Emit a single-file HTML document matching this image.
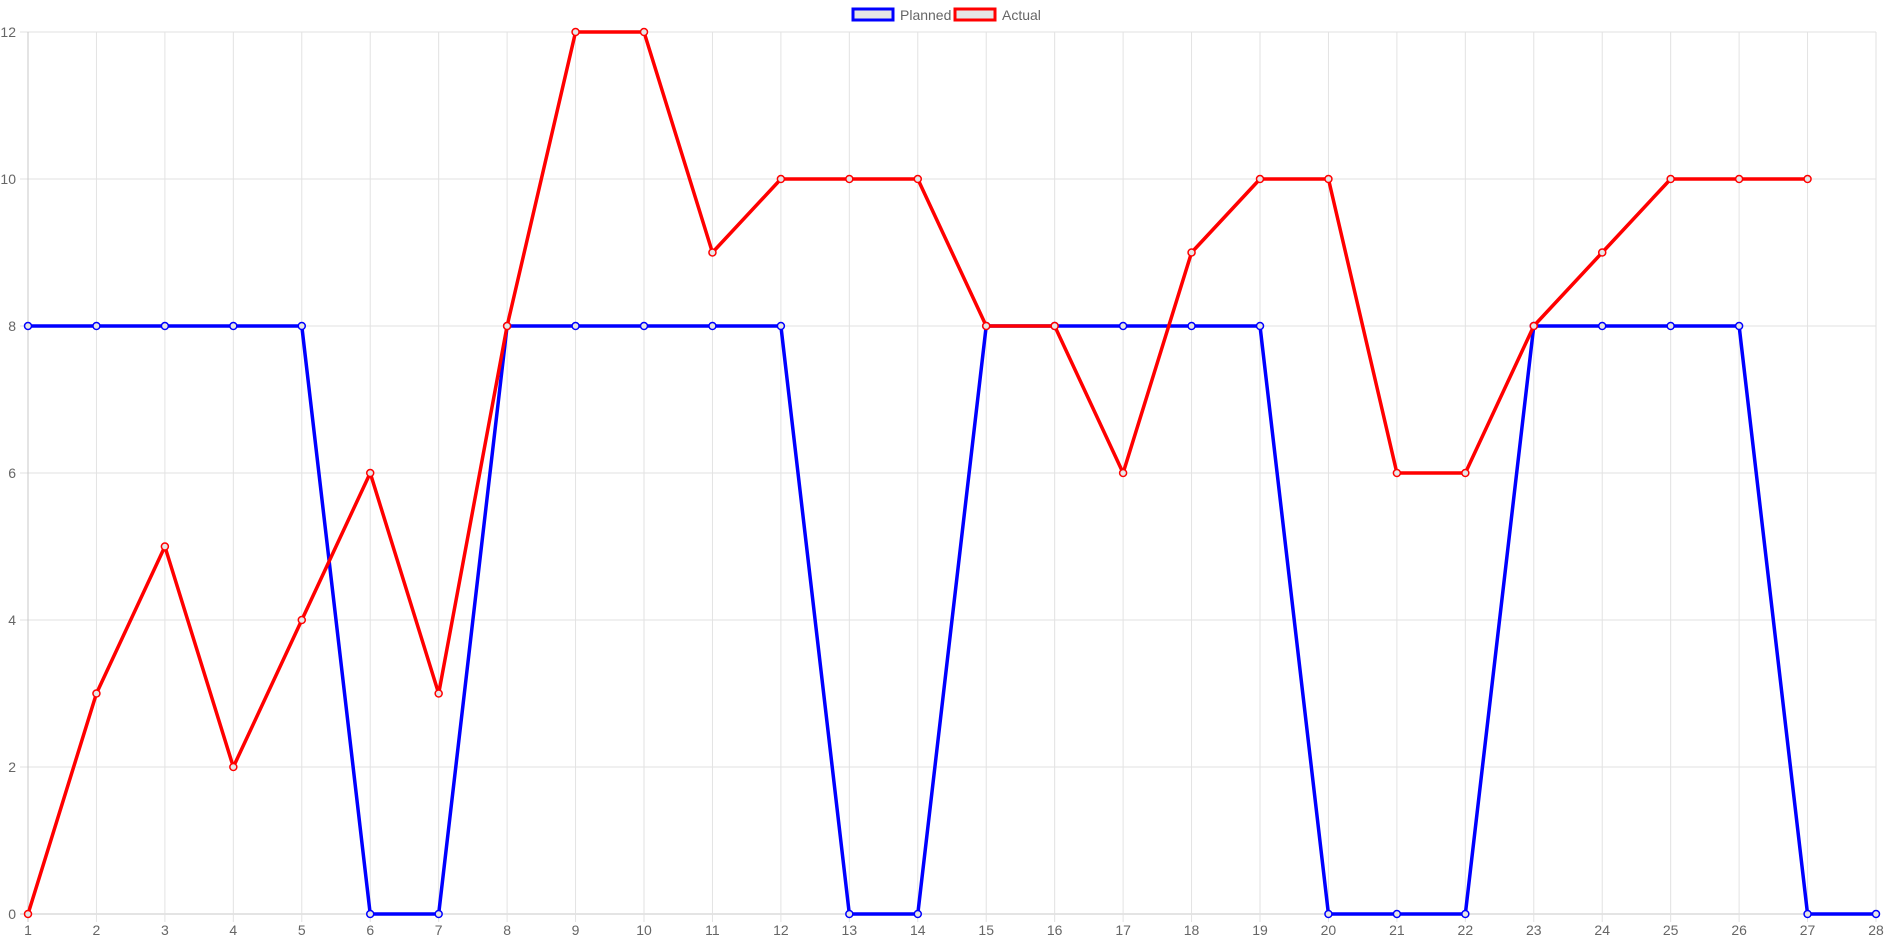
<!DOCTYPE html>
<html><head><meta charset="utf-8"><style>
html,body{margin:0;padding:0;background:#fff;}
svg{display:block;font-family:"Liberation Sans",Arial,sans-serif;}
</style></head><body>
<svg id="chart" width="1887" height="943"></svg>
<script>
const categories = ["1","2","3","4","5","6","7","8","9","10","11","12","13","14","15","16","17","18","19","20","21","22","23","24","25","26","27","28"];
const plannedValues = [8,8,8,8,8,0,0,8,8,8,8,8,0,0,8,8,8,8,8,0,0,0,8,8,8,8,0,0];
const actualValues = [0,3,5,2,4,6,3,8,12,12,9,10,10,10,8,8,6,9,10,10,6,6,8,9,10,10,10];
const yTicks = [0,2,4,6,8,10,12];

const svgEl = document.getElementById('chart');
const NS = 'http://www.w3.org/2000/svg';
const plotLeft = 28, plotRight = 1876, plotTop = 32, plotBottom = 914, yMax = 12;
function xPos(i){ return plotLeft + i*(plotRight-plotLeft)/(categories.length-1); }
function yPos(v){ return plotBottom - v*(plotBottom-plotTop)/yMax; }
function mk(tag, attrs){ const e = document.createElementNS(NS, tag); for (const k in attrs) e.setAttribute(k, attrs[k]); svgEl.appendChild(e); return e; }

yTicks.forEach(v=>{
  const l = mk('line',{x1:plotLeft-8,x2:plotRight,y1:yPos(v),y2:yPos(v),stroke:v===0?'#c8c8c8':'#e2e2e2','stroke-width':1});
  
  
  const t = mk('text',{x:plotLeft-12,y:yPos(v)+5,'text-anchor':'end','font-size':14,fill:'#666'});
  t.textContent = v;
  
  
});
categories.forEach((c,i)=>{
  const l = mk('line',{x1:xPos(i),x2:xPos(i),y1:plotTop,y2:plotBottom+8,stroke:i===0?'#c8c8c8':'#e2e2e2','stroke-width':1});
  
  
  const t = mk('text',{x:xPos(i),y:plotBottom+21,'text-anchor':'middle','font-size':14,fill:'#666'});
  t.textContent = c;
  
  
});

function series(vals,color,name){
  const p = mk('polyline',{points:vals.map((v,i)=>xPos(i)+','+yPos(v)).join(' '),fill:'none',stroke:color,'stroke-width':3.5,'stroke-linejoin':'round'});
  
  
  vals.forEach((v,i)=>{
    const c = mk('circle',{cx:xPos(i),cy:yPos(v),r:3.5,fill:'#e6e6e6',stroke:color,'stroke-width':1.5});
    
    
  });
}
series(plannedValues,'#0000ff','planned');
series(actualValues,'#ff0000','actual');

const lg = [{x:853,label:'Planned',color:'#0000ff',name:'legend-planned'},{x:955,label:'Actual',color:'#ff0000',name:'legend-actual'}];
lg.forEach(e=>{
  const r = mk('rect',{x:e.x,y:9,width:40,height:11,fill:'#e6e6e6',stroke:e.color,'stroke-width':3});
  
  
  const t = mk('text',{x:e.x+47,y:20,'font-size':14,fill:'#666'});
  t.textContent = e.label;
  
  
});
</script>
</body></html>
